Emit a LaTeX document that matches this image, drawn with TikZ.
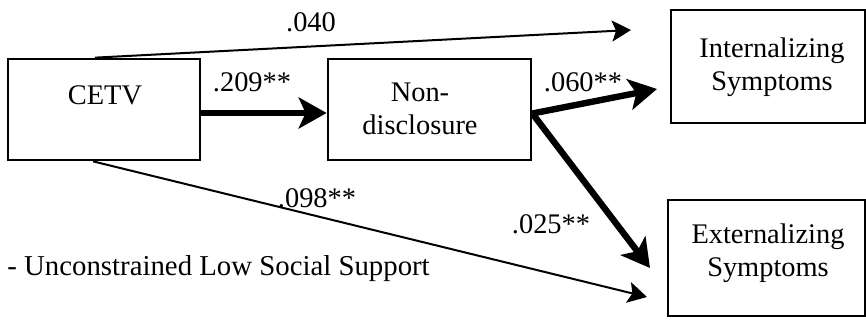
\documentclass[tikz,border=0pt]{standalone}
\usepackage{fontspec}
\setmainfont{Liberation Serif}
\usetikzlibrary{arrows.meta,fit}
\begin{document}
\begin{tikzpicture}[x=0.5pt,y=-0.5pt,
  box/.style={draw, line width=1.35pt, inner sep=0pt},
  txt/.style={font=\fontsize{14.2}{16.5}\selectfont, inner sep=0pt, align=center},
  thinarrow/.style={line width=1pt, -{Stealth[length=9.5pt,width=10.5pt,inset=2pt]}},
  thickarrow/.style={line width=3.2pt, -{Stealth[length=14pt,width=15.5pt,inset=3.5pt]}}]
\useasboundingbox (0,0) rectangle (866,320);
% boxes
\node[box, fit={(8,59) (200,160)}] (cetv) {};
\node[box, fit={(328,59) (531,160)}] (nd) {};
\node[box, fit={(671,10) (865,123)}] (int) {};
\node[box, fit={(668,200) (865,316)}] (ext) {};
% box texts
\node[txt, anchor=base] (cetvt) at (105,105) {CETV};
\node[txt] (ndt) at (420,109) {Non-\\disclosure};
\node[txt] (intt) at (772,67) {Internalizing\\Symptoms};
\node[txt] (extt) at (768,253) {Externalizing\\Symptoms};
% free ends
\coordinate (tip040) at (631,30);
\coordinate (tip060) at (657,89);
\coordinate (tip025) at (650,268);
\coordinate (tip098) at (647,297);
% connectors
\draw[thinarrow] ([xshift=-4.5pt]cetv.north) -- (tip040);
\draw[thickarrow] ([yshift=-1.75pt]cetv.east |- nd.west) -- ([yshift=-1.75pt]nd.west);
\draw[thickarrow] ([yshift=-2pt]nd.east) -- (tip060);
\draw[thickarrow] ([yshift=-2pt]nd.east) -- (tip025);
\draw[thinarrow] ([xshift=-5.5pt]cetv.south) -- (tip098);
% labels
\node[txt, anchor=base] (l040) at (311,32) {.040};
\node[txt, anchor=base] (l209) at (252,92) {.209**};
\node[txt, anchor=base] (l060) at (583,92) {.060**};
\node[txt, anchor=base] (l025) at (551,234) {.025**};
\node[txt, anchor=base] (l098) at (317,207) {.098**};
\node[txt, anchor=base west, font=\fontsize{14.4}{16.5}\selectfont] (note) at (7,275) {- Unconstrained Low Social Support};
\end{tikzpicture}
\end{document}
